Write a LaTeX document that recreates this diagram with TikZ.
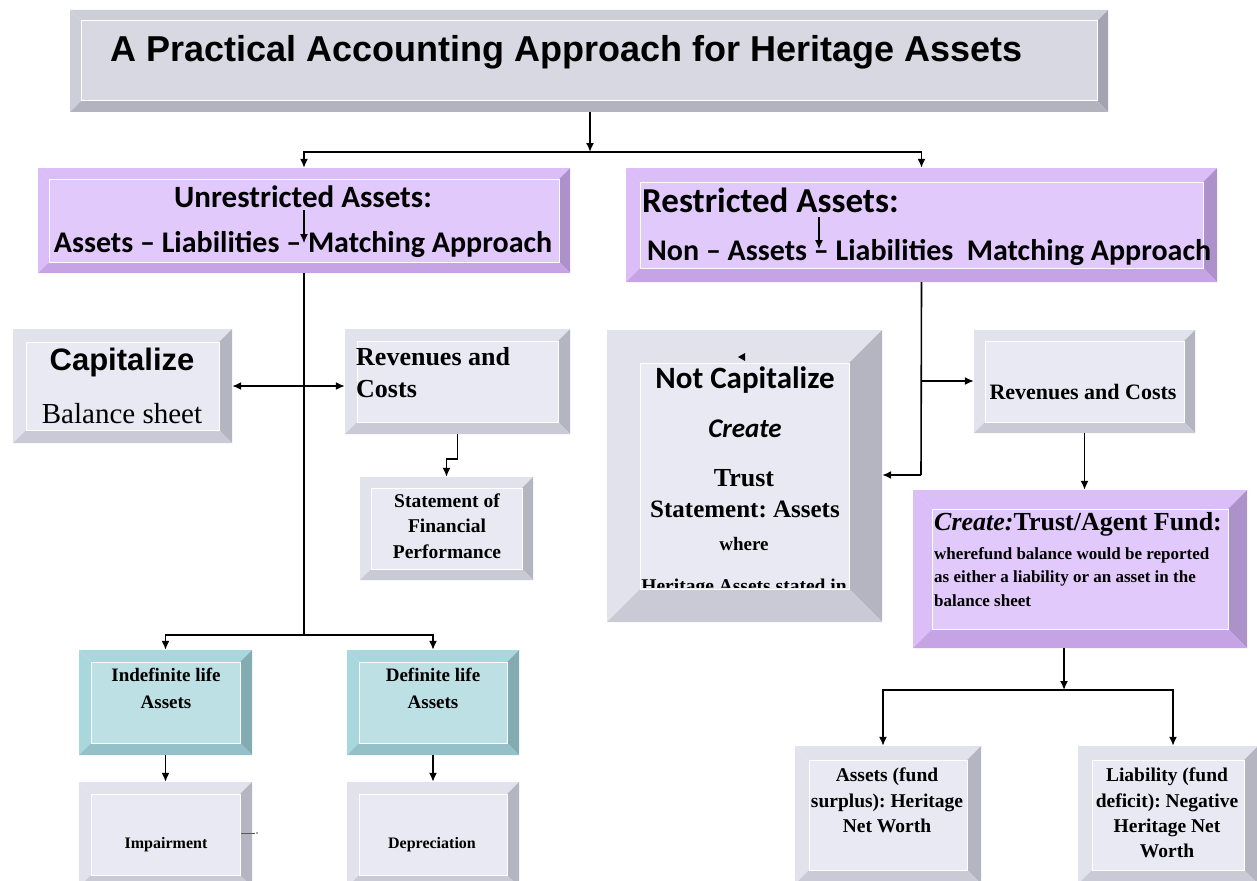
\documentclass[tikz,border=0pt]{standalone}
\usepackage{fontspec}
\setmainfont{Liberation Serif}
\newfontfamily\lsans{Liberation Sans}
\newfontfamily\carl{Carlito}
\usetikzlibrary{arrows.meta}
\frenchspacing
% grey boxes
\definecolor{gF}{HTML}{E9E9F3}\definecolor{gT}{HTML}{E2E2EC}\definecolor{gL}{HTML}{E2E2EC}
\definecolor{gR}{HTML}{B5B5C1}\definecolor{gB}{HTML}{CACAD6}
% title box
\definecolor{tF}{HTML}{D8D8E2}\definecolor{tT}{HTML}{CECED9}\definecolor{tL}{HTML}{CECED9}
\definecolor{tR}{HTML}{A3A3B1}\definecolor{tB}{HTML}{B3B3BF}
% purple boxes
\definecolor{pF}{HTML}{E2C9FB}\definecolor{pT}{HTML}{DBBEF8}\definecolor{pL}{HTML}{DBBEF8}
\definecolor{pR}{HTML}{AD91CB}\definecolor{pB}{HTML}{C5A3E4}
% teal boxes
\definecolor{cF}{HTML}{BDE0E5}\definecolor{cT}{HTML}{A9D7DE}\definecolor{cL}{HTML}{A9D7DE}
\definecolor{cR}{HTML}{82ACB2}\definecolor{cB}{HTML}{94C0C8}
\newcommand\fs[1]{\fontsize{#1}{#1}\selectfont}
% bevelled box: name, x1, y1, x2, y2, bevel, palette
\newcommand\bev[7]{%
  \fill[#7T] (#2,#3) -- (#4,#3) -- ({#4-#6},{#3+#6}) -- ({#2+#6},{#3+#6}) -- cycle;
  \fill[#7L] (#2,#3) -- ({#2+#6},{#3+#6}) -- ({#2+#6},{#5-#6}) -- (#2,#5) -- cycle;
  \fill[#7R] (#4,#3) -- (#4,#5) -- ({#4-#6},{#5-#6}) -- ({#4-#6},{#3+#6}) -- cycle;
  \fill[#7B] (#2,#5) -- (#4,#5) -- ({#4-#6},{#5-#6}) -- ({#2+#6},{#5-#6}) -- cycle;
  \fill[#7F] ({#2+#6},{#3+#6}) rectangle ({#4-#6},{#5-#6});
  \draw[white, line width=1pt] ({#2+#6},{#3+#6}) rectangle ({#4-#6},{#5-#6});
  \node[inner sep=0, minimum width={#4-#2}, minimum height={#5-#3}] (#1) at ({(#2+#4)/2},{(#3+#5)/2}) {};
}
\begin{document}
\begin{tikzpicture}[x=1pt, y=-1pt,
  ln/.style={line width=1.6pt, black},
  arr/.style={ln, -{Latex[length=9pt, width=8pt]}},
  arrs/.style={ln, {Latex[length=9pt, width=8pt]}-{Latex[length=9pt, width=8pt]}},
  txt/.style={inner sep=0, anchor=base},
  txtl/.style={inner sep=0, anchor=base west},
  sb/.style={font=\carl\bfseries\fs{#1}},
  rb/.style={font=\bfseries\fs{#1}}]
\useasboundingbox (0,0) rectangle (1257,880);
\clip (0,0) rectangle (1257,880);
\fill[white] (0,0) rectangle (1257,880);

% ---------- boxes ----------
\bev{title}{70}{10}{1108}{112}{11}{t}
\bev{ua}{38}{168}{570}{273}{11}{p}
\bev{ra}{626}{168}{1217}{282}{14}{p}
\bev{cap}{13}{329}{232}{443}{13}{g}
\bev{rev1}{345}{329}{570}{434}{12}{g}
\bev{stmt}{360}{477}{533}{580}{11}{g}
\bev{nc}{607}{330}{882}{622}{33}{g}
\bev{rev2}{974}{330}{1195}{433}{11}{g}
\bev{tf}{913}{490}{1247}{648}{19}{p}
\bev{ind}{79}{650}{252}{755}{12}{c}
\bev{def}{347}{650}{519}{755}{12}{c}
\bev{imp}{79}{782}{252}{887}{12}{g}
\bev{dep}{347}{782}{519}{887}{12}{g}
\bev{as}{795}{746}{981}{884}{14}{g}
\bev{li}{1078}{746}{1258}{884}{14}{g}

% ---------- texts ----------
\node[txtl, font=\lsans\bfseries\fs{36}] (ttl) at (110,62) {A Practical Accounting Approach for Heritage Assets};

\node[txt, sb=31] (ua1) at (303,207) {Unrestricted Assets:};
\node[txt, sb=30] (ua2) at (303,252) {Assets – Liabilities – Matching Approach};

\node[txtl, sb=35] (ra1) at (642,212) {Restricted Assets:};
\node[txtl, sb=30] (ra2) at (647,260) {Non – Assets – Liabilities\ \ Matching Approach};

\node[txt, font=\lsans\bfseries\fs{31}] (cap1) at (122,370) {Capitalize};
\node[txt, font=\fs{29}] (cap2) at (122,423) {Balance sheet};

\node[txtl, rb=26] (rv1a) at (356,365) {Revenues and};
\node[txtl, rb=26] (rv1b) at (356,397) {Costs};

\node[txt, rb=19.5] (st1) at (447,507) {Statement of};
\node[txt, rb=19.5] (st2) at (447,532) {Financial};
\node[txt, rb=19.5] (st3) at (447,558) {Performance};

\node[txt, sb=31] (nc1) at (745,388) {Not Capitalize};
\node[txt, font=\carl\bfseries\itshape\fs{27}] (nc2) at (745,437) {Create};
\node[txt, rb=26] (nc3) at (744,486) {Trust};
\node[txt, rb=25] (nc4) at (745,517) {Statement: Assets};
\node[txt, rb=19] (nc5) at (744,550) {where};
\begin{scope}
  \clip (640,362) rectangle (849,587);
  \node[txt, rb=19.5] (nc6) at (744,592) {Heritage Assets stated in};
\end{scope}

\node[txt, rb=22] (rv2a) at (1083,399) {Revenues and Costs};

\node[txtl, rb=26] (tf1) at (934,530) {\textit{Create:}Trust/Agent Fund:};
\node[txtl, rb=17] (tf2) at (934,559) {wherefund balance would be reported};
\node[txtl, rb=17] (tf3) at (934,582) {as either\ a liability or an asset\ in the};
\node[txtl, rb=17] (tf4) at (934,606) {balance sheet};

\node[txt, rb=19] (in1) at (166,681) {Indefinite life};
\node[txt, rb=19] (in2) at (166,708) {Assets};
\node[txt, rb=19] (de1) at (433,681) {Definite life};
\node[txt, rb=19] (de2) at (433,708) {Assets};

\node[txt, rb=16] (im1) at (166,848) {Impairment};
\node[txt, rb=16] (dp1) at (432,848) {Depreciation};

\node[txt, rb=19.5] (as1) at (887,781) {Assets (fund};
\node[txt, rb=19.5] (as2) at (887,807) {surplus): Heritage};
\node[txt, rb=19.5] (as3) at (887,832) {Net Worth};

\node[txt, rb=19.5] (li1) at (1167,781) {Liability (fund};
\node[txt, rb=19.5] (li2) at (1167,807) {deficit): Negative};
\node[txt, rb=19.5] (li3) at (1167,832) {Heritage Net};
\node[txt, rb=19.5] (li4) at (1167,857) {Worth};

% ---------- connectors ----------
\coordinate (j1) at (590,152);
\draw[arr] (title.south -| j1) -- (j1);
\draw[arr] (j1) -| (ua.north);
\draw[arr] (j1) -| (ra.north);

% stray arrows inside the purple boxes
\coordinate (ua-a) at (304,210);
\coordinate (ua-b) at (304,243);
\draw[arr, line width=1.2pt] (ua-a) -- (ua-b);
\coordinate (ra-a) at (819,217);
\coordinate (ra-b) at (819,249);
\draw[arr, line width=1.2pt] (ra-a) -- (ra-b);

% left branch
\coordinate (j2) at (304,635);
\draw[ln] (ua.south) -- (j2);
\draw[arrs] (cap.east) -- (cap.east -| rev1.west);
\draw[arr] (rev1.south) -- ++(0,25) -| (stmt.north);
\draw[arr] (j2) -| (ind.north);
\draw[arr] (j2) -| (def.north);
\draw[arr] (ind.south) -- (imp.north);
\draw[arr] (def.south) -- (dep.north);
% small mark beside Impairment
\coordinate (mk1) at (241,833);
\coordinate (mk2) at (255,833);
\draw[gray!70!black, line width=0.8pt] (mk1) -- (mk2);
\fill[gray!70!black] (257,833) circle (0.8);

% right branch
\coordinate (r1) at (921,381);
\coordinate (r2) at (921,475);
\draw[ln] (ra.south) -- (r2);
\draw[arr] (r2) -- (r2 -| nc.east);
\draw[arr] (r1) -- (r1 -| rev2.west);
\draw[arr] (rev2.south) -- (rev2.south |- tf.north);
\coordinate (j4) at (1064,690);
\draw[arr] (j4 |- tf.south) -- (j4);
\draw[arr] (j4) -| ([xshift=-5pt]as.north);
\draw[arr] (j4) -| ([xshift=5pt]li.north);
% small arrowhead mark inside Not Capitalize
\coordinate (tri) at (742,357);
\fill ([xshift=-4pt]tri) -- ([xshift=3pt,yshift=-4pt]tri) -- ([xshift=3pt,yshift=4pt]tri) -- cycle;
\end{tikzpicture}
\end{document}
